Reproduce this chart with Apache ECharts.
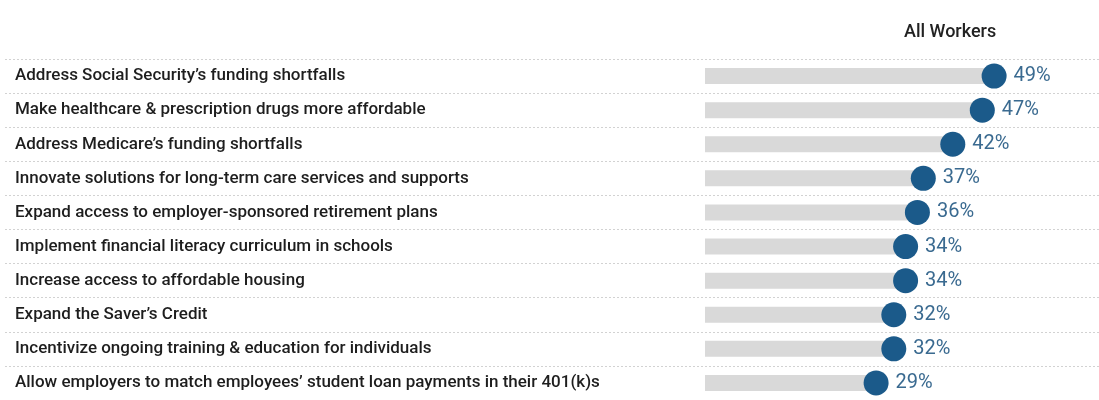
<!DOCTYPE html>
<html>
<head>
<meta charset="utf-8">
<script src="https://cdn.jsdelivr.net/npm/echarts@6/dist/echarts.min.js"></script>
<style>
html,body{margin:0;padding:0;background:#fff;}
#c{width:1099px;height:400px;}
</style>
</head>
<body>
<div id="c"></div>
<script>
const categories = [
  "Address Social Security’s funding shortfalls",
  "Make healthcare & prescription drugs more affordable",
  "Address Medicare’s funding shortfalls",
  "Innovate solutions for long-term care services and supports",
  "Expand access to employer-sponsored retirement plans",
  "Implement financial literacy curriculum in schools",
  "Increase access to affordable housing",
  "Expand the Saver’s Credit",
  "Incentivize ongoing training & education for individuals",
  "Allow employers to match employees’ student loan payments in their 401(k)s"
];
const allWorkers = [49, 47, 42, 37, 36, 34, 34, 32, 32, 29];
const seriesName = "All Workers";

const FONT = 'Roboto, "Liberation Sans", sans-serif';
const chart = echarts.init(document.getElementById('c'));
chart.setOption({
  animation: false,
  title: {
    text: seriesName,
    left: 899, top: 18,
    textStyle: {fontFamily: FONT, fontSize: 18, fontWeight: 500, color: '#222'}
  },
  grid: [
    {left: 705, right: 99, top: 59, height: 345.6},
    {left: 5, right: 0, top: 59, height: 345.6}
  ],
  xAxis: [
    {gridIndex: 0, type: 'value', min: 0, max: 50, show: false},
    {gridIndex: 1, type: 'value', min: 0, max: 1, show: false}
  ],
  yAxis: [
    {
      gridIndex: 0, type: 'category', data: categories, inverse: true,
      axisLine: {show: false}, axisTick: {show: false}, splitLine: {show: false},
      axisLabel: {
        align: 'left', margin: 690, fontFamily: FONT, fontSize: 17, fontWeight: 500,
        color: '#1e1e1e', padding: [3, 0, 0, 0]
      }
    },
    {
      gridIndex: 1, type: 'category', data: categories, inverse: true,
      axisLine: {show: false}, axisTick: {show: false}, axisLabel: {show: false},
      splitLine: {show: true, lineStyle: {color: '#d2d2d2', type: [2, 2], width: 1}}
    }
  ],
  series: [
    {
      type: 'bar', xAxisIndex: 0, yAxisIndex: 0, data: allWorkers,
      barWidth: 16, itemStyle: {color: '#d9d9d9'}, silent: true
    },
    {
      type: 'scatter', xAxisIndex: 0, yAxisIndex: 0,
      data: allWorkers.map((v, i) => [v, i]),
      symbol: 'circle', symbolSize: 25,
      itemStyle: {color: '#1b5a8a', opacity: 1},
      label: {
        show: true, position: 'right', distance: 7,
        formatter: p => p.value[0] + '%',
        fontFamily: FONT, fontSize: 20, color: '#3a6a90', padding: [2, 0, 0, 0]
      }
    }
  ]
});
</script>
</body>
</html>
